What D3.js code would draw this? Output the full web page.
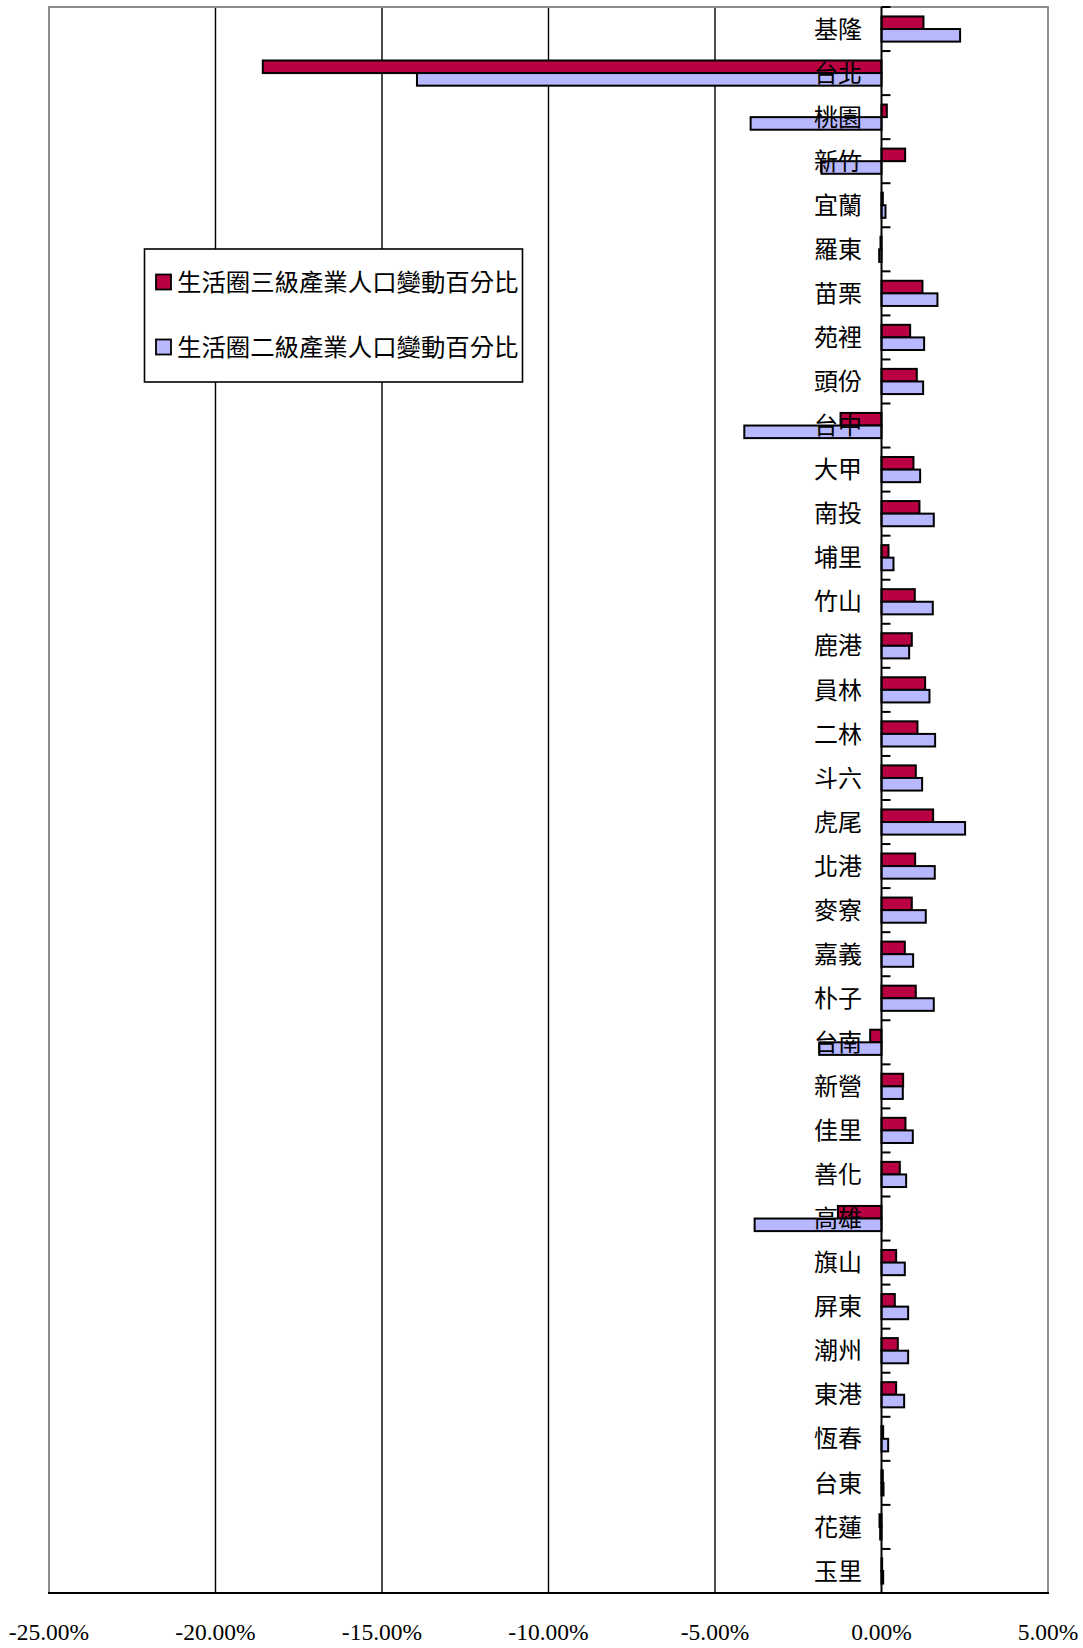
<!DOCTYPE html>
<html><head><meta charset="utf-8">
<script src="https://cdn.jsdelivr.net/npm/d3@7/dist/d3.min.js"></script>
<style>html,body{margin:0;padding:0;background:#fff;}</style>
</head><body>
<svg id="chart" width="1083" height="1648"></svg>
<script>
const categories = ["基隆","台北","桃園","新竹","宜蘭","羅東","苗栗","苑裡","頭份","台中","大甲","南投","埔里","竹山","鹿港","員林","二林","斗六","虎尾","北港","麥寮","嘉義","朴子","台南","新營","佳里","善化","高雄","旗山","屏東","潮州","東港","恆春","台東","花蓮","玉里"];
// 生活圈三級產業人口變動百分比 (%)
const tertiary = [1.26,-18.58,0.16,0.71,0.04,-0.03,1.23,0.86,1.06,-1.23,0.96,1.14,0.21,1.00,0.91,1.31,1.08,1.03,1.55,1.01,0.91,0.70,1.03,-0.34,0.65,0.72,0.55,-1.31,0.44,0.40,0.49,0.44,0.05,0.04,-0.06,0.02];
// 生活圈二級產業人口變動百分比 (%)
const secondary = [2.36,-13.95,-3.93,-1.80,0.12,-0.07,1.68,1.28,1.25,-4.12,1.16,1.57,0.36,1.54,0.83,1.44,1.61,1.22,2.51,1.60,1.33,0.95,1.57,-1.87,0.64,0.94,0.74,-3.81,0.70,0.80,0.80,0.68,0.20,0.06,-0.04,0.05];
const seriesNames = ["生活圈三級產業人口變動百分比","生活圈二級產業人口變動百分比"];
const tickValues = [-25,-20,-15,-10,-5,0,5];
const tickLabels = ["-25.00%","-20.00%","-15.00%","-10.00%","-5.00%","0.00%","5.00%"];

const colors = ["#B90043","#B8B8FF"];
const svg = d3.select("#chart");
const L = 49, R = 1048, T = 7, B = 1593;
const x = d3.scaleLinear().domain([-25,5]).range([L,R]);
const y = d3.scaleBand().domain(categories).range([T,B]).paddingInner(0).paddingOuter(0);
const bw = y.bandwidth();
const group = bw/1.75;
const off = (bw-group)/2;
const sub = d3.scaleBand().domain([0,1]).range([0,group]);

// gridlines
svg.append("g").selectAll("line").data(tickValues.filter(v=>v>-25 && v<0)).join("line")
  .attr("x1",d=>x(d)).attr("x2",d=>x(d)).attr("y1",T).attr("y2",B)
  .attr("stroke","#000").attr("stroke-width",1.4);

// plot border (gray)
svg.append("path").attr("d",`M${L},${B} V${T} H${R} V${B}`)
  .attr("fill","none").attr("stroke","#8c8c8c").attr("stroke-width",2);

// bars
const series = [tertiary, secondary];
series.forEach((vals,si)=>{
  svg.append("g").selectAll("rect").data(vals).join("rect")
    .attr("x",d=>x(Math.min(0,d)))
    .attr("width",d=>Math.abs(x(d)-x(0)))
    .attr("y",(d,i)=>y(categories[i])+off+sub(si))
    .attr("height",sub.bandwidth())
    .attr("fill",colors[si]).attr("stroke","#000").attr("stroke-width",2);
});

// zero axis with ticks at category boundaries
svg.append("line").attr("x1",x(0)).attr("x2",x(0)).attr("y1",T).attr("y2",B)
  .attr("stroke","#000").attr("stroke-width",2);
const bounds = categories.map(c=>y(c)).concat([B]);
svg.append("g").selectAll("line").data(bounds).join("line")
  .attr("x1",x(0)).attr("x2",x(0)+9).attr("y1",d=>d).attr("y2",d=>d)
  .attr("stroke","#000").attr("stroke-width",2);

// bottom axis
svg.append("line").attr("x1",L-1).attr("x2",R+1).attr("y1",B).attr("y2",B)
  .attr("stroke","#000").attr("stroke-width",2);

// x tick labels
svg.append("g").selectAll("text").data(tickValues).join("text")
  .attr("x",d=>x(d)).attr("y",1640)
  .attr("text-anchor","middle")
  .attr("font-family","'Liberation Serif','Times New Roman',serif")
  .attr("font-size",23.5).attr("fill","#000")
  .text((d,i)=>tickLabels[i]);

// category labels
svg.append("g").selectAll("text").data(categories).join("text")
  .attr("x",862).attr("y",d=>y(d)+bw/2)
  .attr("dy","0.36em")
  .attr("text-anchor","end")
  .attr("font-family","'Noto Sans CJK TC','Noto Sans CJK SC',sans-serif")
  .attr("font-size",24).attr("fill","#000")
  .text(d=>d);

// legend
const lg = svg.append("g");
lg.append("rect").attr("x",144.5).attr("y",249).attr("width",378).attr("height",133)
  .attr("fill","#fff").attr("stroke","#000").attr("stroke-width",1.6);
const lgY = [282,347];
seriesNames.forEach((n,i)=>{
  lg.append("rect").attr("x",156).attr("y",lgY[i]-7.5).attr("width",15).attr("height",15)
    .attr("fill",colors[i]).attr("stroke","#000").attr("stroke-width",1.8);
  lg.append("text").attr("x",177).attr("y",lgY[i]).attr("dy","0.36em")
    .attr("font-family","'Noto Sans CJK TC','Noto Sans CJK SC',sans-serif")
    .attr("font-size",24.4).attr("fill","#000").text(n);
});
</script>
</body></html>
